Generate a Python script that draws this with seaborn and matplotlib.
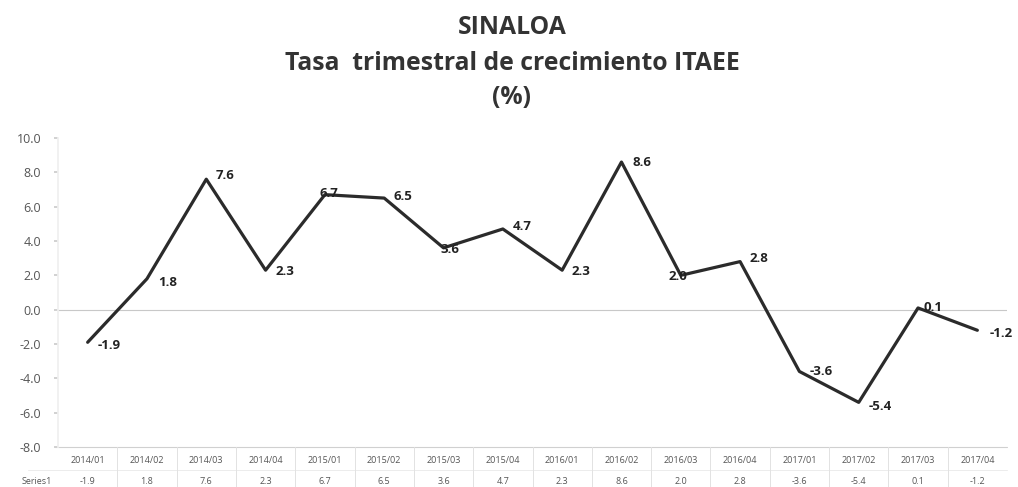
import numpy as np
import pandas as pd
import matplotlib
matplotlib.use("Agg")
import matplotlib.pyplot as plt
import seaborn as sns

periods = ["2014/01", "2014/02", "2014/03", "2014/04",
           "2015/01", "2015/02", "2015/03", "2015/04",
           "2016/01", "2016/02", "2016/03", "2016/04",
           "2017/01", "2017/02", "2017/03", "2017/04"]
values = [-1.9, 1.8, 7.6, 2.3, 6.7, 6.5, 3.6, 4.7,
          2.3, 8.6, 2.0, 2.8, -3.6, -5.4, 0.1, -1.2]
yticks = [-8.0, -6.0, -4.0, -2.0, 0.0, 2.0, 4.0, 6.0, 8.0, 10.0]

# label offsets (points) relative to each marker
offsets = [(7, -2), (8, -3), (7, 3), (7, -1), (-4, 1), (7, 1), (-2, -1), (7, 2),
           (7, -1), (8, 0), (-9, -1), (7, 2), (7, 0), (7, -3), (4, 0), (9, -2)]

sns.set_theme(style="white")
plt.rcParams['font.family'] = ['Open Sans', 'DejaVu Sans']

df = pd.DataFrame({"x": np.arange(len(periods)), "v": values})

fig = plt.figure(figsize=(10.18, 4.87), dpi=100)
ax = fig.add_axes([58 / 1018, 1 - 447 / 487, (1007 - 58) / 1018, (447 - 138) / 487])

sns.lineplot(data=df, x="x", y="v", ax=ax, color="#2b2b2b", linewidth=2.3)

ax.axhline(0, color="#c8c8c8", linewidth=0.8, zorder=0)
ax.set_xlim(-0.5, len(periods) - 0.5)
ax.set_ylim(-8, 10)
ax.set_yticks(yticks)
ax.set_yticklabels([f"{t:.1f}" for t in yticks], color="#555555", fontsize=9)
ax.tick_params(axis="y", length=3, color="#cccccc", pad=9, left=True)
ax.set_xticks([])
ax.set_xlabel("")
ax.set_ylabel("")
for s in ["top", "right", "bottom"]:
    ax.spines[s].set_visible(False)
ax.spines["left"].set_color("#f0f0f0")

for i, (v, off) in enumerate(zip(values, offsets)):
    ax.annotate(f"{v:.1f}", (i, v), xytext=off, textcoords="offset points",
                fontsize=9.5, fontweight="bold", color="#222222",
                ha="left", va="center")

# data table under the plot
trans = ax.get_xaxis_transform()
ax.plot([-0.55, len(periods) - 0.5], [0, 0], transform=trans, color="#d0d0d0",
        linewidth=0.8, clip_on=False)
ax.plot([-1.0, len(periods) - 0.5], [-0.075, -0.075], transform=trans,
        color="#ececec", linewidth=0.7, clip_on=False)
for i, (p, v) in enumerate(zip(periods, values)):
    ax.text(i, -0.045, p, transform=trans, ha="center", va="center",
            fontsize=6.5, color="#555555")
    ax.text(i, -0.113, f"{v:.1f}", transform=trans, ha="center", va="center",
            fontsize=6.5, color="#555555")
    if i > 0:
        ax.plot([i - 0.5, i - 0.5], [0, -0.13], transform=trans,
                color="#e2e2e2", linewidth=0.7, clip_on=False)
ax.text(-0.6, -0.113, "Series1", transform=trans, ha="right", va="center",
        fontsize=6.5, color="#555555")

title_kw = dict(ha="center", va="center", fontsize=17.8, fontweight="bold", color="#333333")
fig.text(512 / 1018, 1 - 28 / 487, "SINALOA", **title_kw)
fig.text(512 / 1018, 1 - 64 / 487, "Tasa  trimestral de crecimiento ITAEE", **title_kw)
fig.text(512 / 1018, 1 - 98 / 487, "(%)", **title_kw)

fig.savefig("out.png", dpi=100)
